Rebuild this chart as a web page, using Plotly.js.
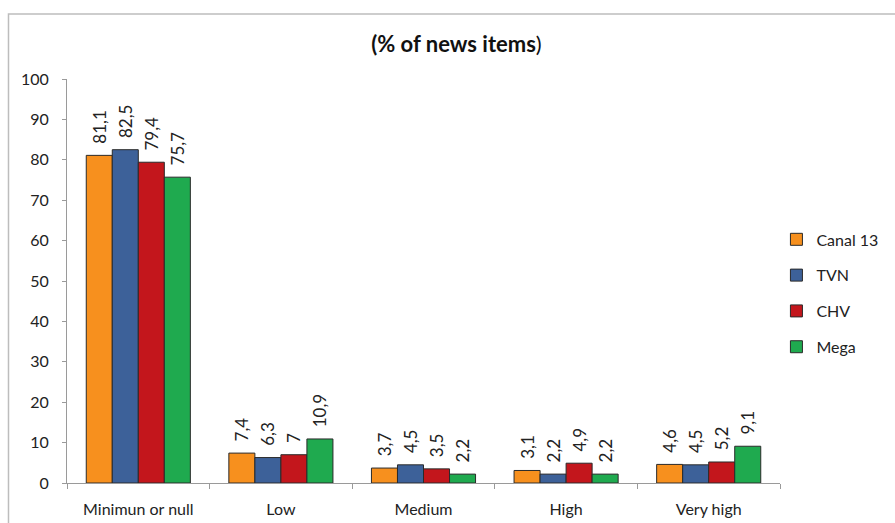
<!DOCTYPE html>
<html><head><meta charset="utf-8">
<script src="https://cdn.plot.ly/plotly-3.0.1.min.js"></script>
<style>body{margin:0;background:#fff}#c{width:895px;height:523px}</style>
</head><body><div id="c"></div>
<script>
const categories = ["Minimun or null", "Low", "Medium", "High", "Very high"];
const canal13 = [81.1, 7.4, 3.7, 3.1, 4.6];
const tvn = [82.5, 6.3, 4.5, 2.2, 4.5];
const chv = [79.4, 7, 3.5, 4.9, 5.2];
const mega = [75.7, 10.9, 2.2, 2.2, 9.1];
const seriesNames = ["Canal 13", "TVN", "CHV", "Mega"];
const colors = ["#F7901E", "#3D6199", "#C3161C", "#1FAA4F"];
const all = [canal13, tvn, chv, mega];
const fmt = v => '\u00a0\u00a0' + String(v).replace('.', ',');
const traces = all.map((vals, i) => ({
  type: 'bar', name: seriesNames[i], x: categories, y: vals, legendgroup: 'g' + i,
  text: vals.map(fmt), textposition: 'outside', textangle: -90, constraintext: 'none',
  textfont: {family: 'Lato, "Open Sans", sans-serif', size: 17, color: '#222'},
  cliponaxis: false,
  marker: {color: colors[i], line: {color: '#2a2a2a', width: 1}},
  hoverinfo: 'none'
}));
const layout = {
  width: 895, height: 523,
  margin: {l: 67, r: 109, t: 79, b: 40},
  paper_bgcolor: '#fff', plot_bgcolor: '#fff',
  font: {family: 'Lato, "Open Sans", sans-serif', color: '#222', size: 16},
  title: {text: '<b>(% of news items</b>)', x: 0.51, xanchor: 'center', y: 0.915, yanchor: 'middle',
          font: {size: 22, color: '#111'}},
  barmode: 'group', bargap: 0.27, bargroupgap: 0,
  showlegend: true,
  legend: {x: 0.995, xanchor: 'left', y: 0.645, yanchor: 'top', tracegroupgap: 12,
           traceorder: 'grouped', font: {size: 16, color: '#222'}, itemwidth: 30},
  xaxis: {type: 'category', showline: true, linecolor: '#9a9a9a', linewidth: 1,
          ticks: 'outside', tickson: 'boundaries', ticklen: 5, tickcolor: '#9a9a9a',
          ticklabelstandoff: 12,
          tickfont: {size: 16, color: '#222'}, showgrid: false},
  yaxis: {range: [0, 100], dtick: 10, showline: true, linecolor: '#9a9a9a', linewidth: 1,
          ticks: 'outside', ticklen: 4, tickcolor: '#9a9a9a', showgrid: false, zeroline: false,
          ticklabelstandoff: 10,
          tickfont: {size: 16, color: '#222'}},
  shapes: [{type: 'rect', xref: 'paper', yref: 'paper',
            x0: -59/719, x1: 1.2, y0: -0.2, y1: (483-14)/404,
            line: {color: '#bdbdbd', width: 1.5}, fillcolor: 'rgba(0,0,0,0)'}]
};
Plotly.newPlot('c', traces, layout, {displayModeBar: false, staticPlot: true});
</script></body></html>
